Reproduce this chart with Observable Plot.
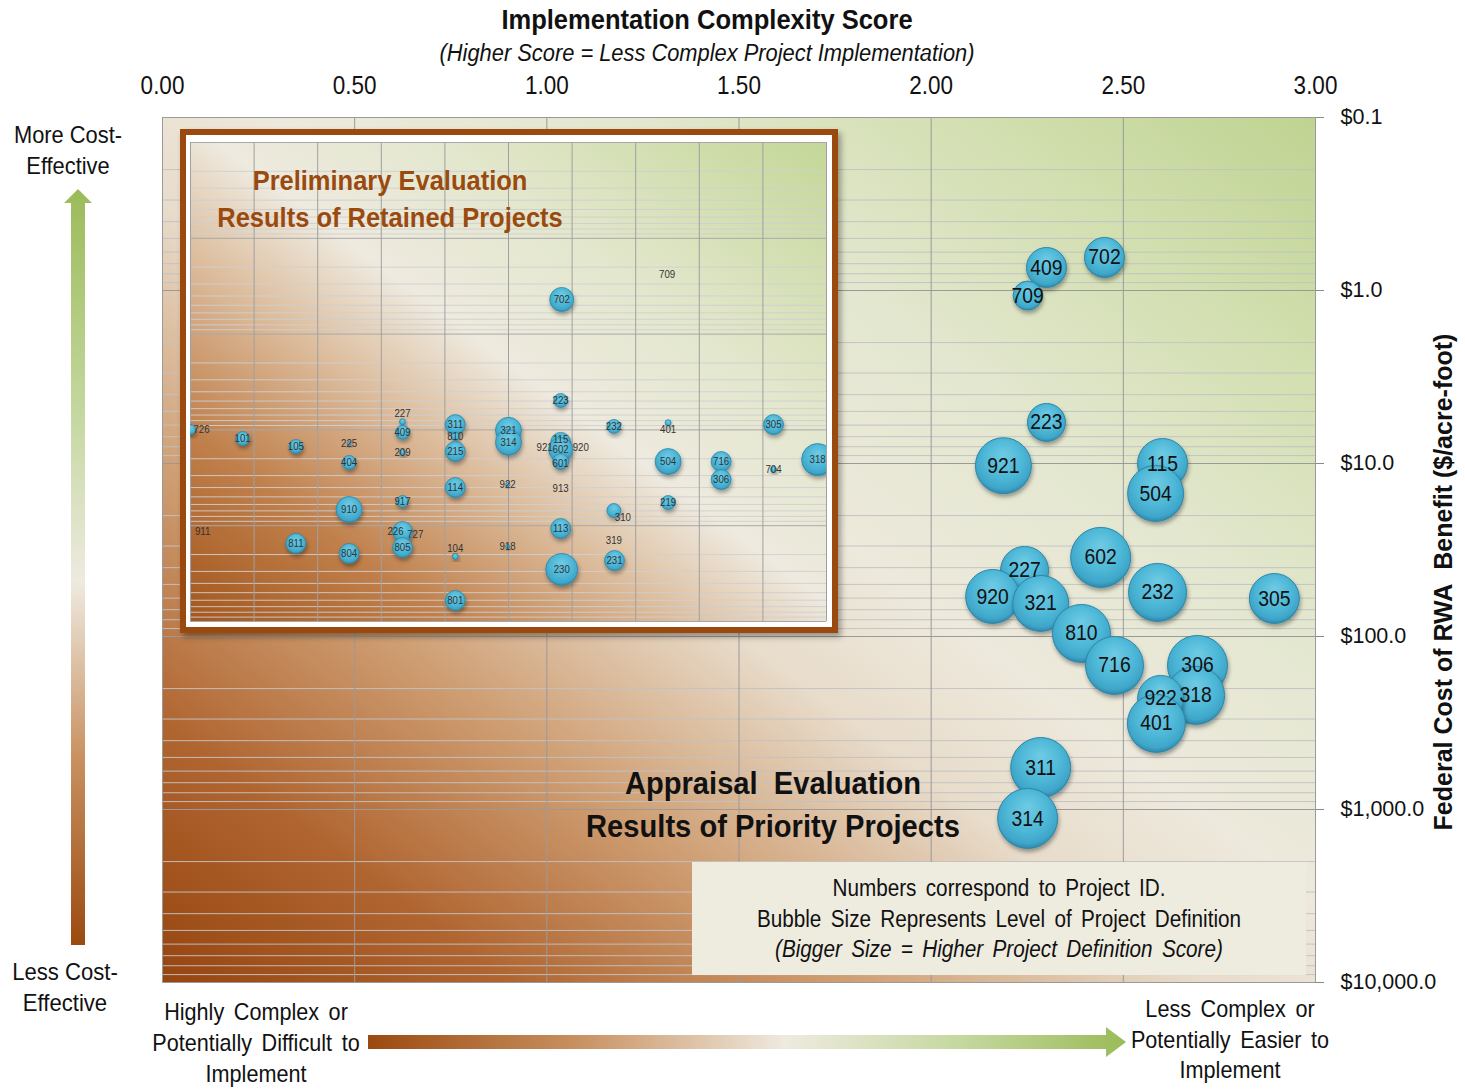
<!DOCTYPE html>
<html><head><meta charset="utf-8">
<script src="https://cdn.jsdelivr.net/npm/d3@7"></script>
<script src="https://cdn.jsdelivr.net/npm/@observablehq/plot@0.6"></script>
<style>
body{margin:0;background:#fff;}
#wrap{position:relative;width:1465px;height:1089px;overflow:hidden;font-family:"Liberation Sans",Arial,sans-serif;color:#111;}
.t{position:absolute;text-align:center;white-space:nowrap;transform-origin:50% 50%;}
#inset{position:absolute;left:180px;top:129px;width:646px;height:492px;border:6px solid #9b4a0f;background:#fff;box-shadow:3px 4px 6px rgba(0,0,0,0.35);}
#legend{position:absolute;left:692px;top:862px;width:614px;height:113px;background:#eeebdf;}
</style></head><body><div id="wrap"></div>
<script>
// ---------- Appraisal evaluation (main chart) ----------
const mainIds   = ["702","409","709","223","921","115","504","602","227","920","321","232","305","810","716","306","318","922","401","311","314"];
const mainScore = [2.451,2.300,2.251,2.300,2.188,2.602,2.584,2.441,2.243,2.160,2.285,2.589,2.893,2.391,2.477,2.693,2.688,2.597,2.586,2.285,2.251];
const mainCost  = [0.644,0.736,1.07,5.79,10.3,10.0,14.9,34.9,41.5,58.7,64.4,55.6,60.3,96,147,147,219,228,318,572,1127];
const mainDef   = [1.33,1.33,0.70,1.20,2.61,2.08,2.61,3.0,1.92,2.43,2.61,2.80,2.08,2.80,2.80,3.0,2.80,1.76,2.80,3.0,3.0];

// ---------- Preliminary evaluation (inset) ----------
const insetIds   = ["726","101","105","225","404","910","811","804","911","227","409","209","917","226","727","805","311","810","215","114","104","801","321","314","922","918","702","223","115","921","920","602","601","913","113","230","232","310","319","231","709","401","504","219","716","306","305","704","318"];
const insetScore = [0.00,0.246,0.497,0.748,0.748,0.748,0.497,0.748,0.057,1.0,1.0,1.0,1.0,1.0,1.06,1.0,1.249,1.249,1.249,1.249,1.249,1.249,1.50,1.50,1.496,1.496,1.751,1.746,1.746,1.694,1.817,1.746,1.746,1.746,1.746,1.751,1.997,1.997,1.997,2.0,2.248,2.253,2.253,2.253,2.503,2.503,2.75,2.75,2.958];
const insetCost  = [9.9,12.3,14.9,13.9,21.9,67.8,153,195,115,8.2,10.6,17.2,55.9,115,124,169,8.8,11.7,16.8,39.9,209,604,10.1,13.5,37.2,165,0.435,4.93,13.5,15.3,15.3,16.0,21.4,40.9,107,286,9.2,69.4,143,231,0.239,8.4,21.4,57.3,21.4,33.0,8.8,25.9,20.4];
const insetDef   = [0.29,0.57,0.57,0.047,0.57,1.98,1.17,1.17,0,0.105,0.57,0.105,0.42,1.17,0,1.17,1.17,0.19,1.17,1.17,0.105,1.17,1.98,1.98,0.047,0.047,1.69,0.57,1.17,0,0,1.69,0.75,0,1.17,3.0,0.57,0.57,0,1.17,0,0.105,1.98,0.57,1.17,1.17,1.17,0.105,3.0];

// ---------- ticks ----------
const xTicks = [0, 0.5, 1, 1.5, 2, 2.5, 3];
const yTicks = [0.1, 1, 10, 100, 1000, 10000];
const insetXTicks = [0, 0.3, 0.6, 0.9, 1.2, 1.5, 1.8, 2.1, 2.4, 2.7, 3];
const insetYTicks = [0.01, 0.1, 1, 10, 100, 1000];

const minorOf = ticks => ticks.slice(0, -1).flatMap(d => [2,3,4,5,6,7,8,9].map(k => d * k));

const mainData = mainIds.map((id, i) => ({id, score: mainScore[i], cost: mainCost[i], def: mainDef[i]}));
const insetData = insetIds.map((id, i) => ({id, score: insetScore[i], cost: insetCost[i], def: insetDef[i]}));

const FONT = '"Liberation Sans",Arial,sans-serif';

const defs = `
<linearGradient id="mainBg" x1="0" y1="1" x2="1" y2="0">
  <stop offset="0" stop-color="#974510"/>
  <stop offset="0.15" stop-color="#b06530"/>
  <stop offset="0.3" stop-color="#cf9f74"/>
  <stop offset="0.45" stop-color="#e8dccb"/>
  <stop offset="0.55" stop-color="#ede9dc"/>
  <stop offset="0.7" stop-color="#e3e7cf"/>
  <stop offset="0.85" stop-color="#d2dfb0"/>
  <stop offset="1" stop-color="#bfd391"/>
</linearGradient>
<linearGradient id="insetBg" x1="0" y1="1" x2="1" y2="0">
  <stop offset="0" stop-color="#a4571d"/>
  <stop offset="0.2" stop-color="#c0804c"/>
  <stop offset="0.38" stop-color="#dcbc9c"/>
  <stop offset="0.52" stop-color="#eeeadf"/>
  <stop offset="0.7" stop-color="#e3e7cd"/>
  <stop offset="1" stop-color="#c4d798"/>
</linearGradient>
<radialGradient id="bub" cx="0.5" cy="0.42" r="0.58" fx="0.5" fy="0.3">
  <stop offset="0" stop-color="#6fcbe4"/>
  <stop offset="0.6" stop-color="#4db7d7"/>
  <stop offset="0.88" stop-color="#3fa6c9"/>
  <stop offset="1" stop-color="#2d88ab"/>
</radialGradient>
<filter id="shadow" x="-30%" y="-30%" width="160%" height="170%">
  <feDropShadow dx="1" dy="3" stdDeviation="2" flood-color="#000" flood-opacity="0.35"/>
</filter>`;

const main = Plot.plot({
  width: 1465, height: 1089,
  marginTop: 117, marginLeft: 162, marginRight: 150, marginBottom: 107,
  style: {background: "transparent", overflow: "visible", color: "#111", fontFamily: FONT},
  x: {domain: [0, 3]},
  y: {type: "log", domain: [0.1, 10000], reverse: true},
  r: {domain: [0, 3], range: [0, 30]},
  marks: [
    Plot.frame({fill: "url(#mainBg)"}),
    Plot.ruleY(minorOf(yTicks), {stroke: "#c2c2c2", strokeOpacity: 0.95}),
    Plot.ruleY(yTicks, {stroke: "#9a9a9a"}),
    Plot.ruleX(xTicks, {stroke: "#9a9a9a"}),
    Plot.frame({stroke: "#9a9a9a"}),
    Plot.axisX({anchor: "top", ticks: xTicks, tickFormat: d3.format(".2f"), tickSize: 0, tickPadding: 24, label: null,
      fontSize: 25, fontFamily: FONT, fill: "#111"}),
    Plot.axisY({anchor: "right", ticks: yTicks, tickFormat: d => "$" + d3.format(",.1f")(d), tickSize: 8, tickPadding: 17, label: null,
      fontSize: 21.5, fontFamily: FONT, fill: "#111", stroke: "#888"}),
    Plot.dot(mainData, {x: "score", y: "cost", r: "def", fill: "url(#bub)", stroke: "#2b86a8", strokeWidth: 1, sort: null}),
    Plot.text(mainData, {x: "score", y: "cost", text: "id", fontSize: 22, fontFamily: FONT, fill: "#111"})
  ]
});

// small label offsets for crowded / tiny inset bubbles
const labelNudge = {"726": [11, 0], "227": [0, -8], "104": [0, -8], "226": [-7, 0], "310": [9, 7], "401": [0, 7],
  "921": [-5, 0], "920": [5, 0], "115": [0, -3], "601": [0, 2]};

const inset = Plot.plot({
  width: 646, height: 492,
  marginLeft: 4, marginRight: 6, marginTop: 7, marginBottom: 6,
  style: {background: "#fff", overflow: "hidden", fontFamily: FONT},
  x: {domain: [0, 3], axis: null},
  y: {type: "log", domain: [0.01, 1000], reverse: true, axis: null},
  r: {domain: [0, 3], range: [0, 16]},
  marks: [
    Plot.frame({fill: "url(#insetBg)"}),
    Plot.ruleY(minorOf(insetYTicks), {stroke: "#cfcfcf", strokeOpacity: 0.9}),
    Plot.ruleY(insetYTicks, {stroke: "#a8a8a8"}),
    Plot.ruleX(insetXTicks, {stroke: "#a0a0a0"}),
    Plot.dot(insetData, {x: "score", y: "cost", r: "def", fill: "url(#bub)", stroke: "#2b86a8", strokeWidth: 0.8, sort: null, clip: true}),
    Plot.text(insetData, {filter: d => !labelNudge[d.id], x: "score", y: "cost", text: "id", fontSize: 11, fontFamily: FONT, fill: "#333"}),
    ...Object.entries(labelNudge).map(([id, [dx, dy]]) =>
      Plot.text(insetData, {filter: d => d.id === id, x: "score", y: "cost", text: "id", dx, dy, fontSize: 11, fontFamily: FONT, fill: "#333"}))
  ]
});

// narrow the label glyphs horizontally (reference uses a condensed face);
// only the transform is extended, x/y attributes are left untouched
function squeeze(svg, selector, s) {
  d3.select(svg).selectAll(selector).each(function() {
    const t = this.getAttribute("transform") || "";
    this.setAttribute("transform", (t + ` scale(${s},1)`).trim());
  });
}
squeeze(main, 'g[aria-label="text"] text', 0.88);
squeeze(main, 'g[aria-label="x-axis tick label"] text', 0.9);
squeeze(inset, 'g[aria-label="text"] text', 0.88);

const wrap = document.getElementById("wrap");
d3.select(main).insert("defs", ":first-child").html(defs);
d3.select(main).selectAll("circle").attr("filter", "url(#shadow)");
d3.select(inset).selectAll("circle").attr("filter", "url(#shadow)");
main.style.position = "absolute"; main.style.left = "0px"; main.style.top = "0px";
wrap.appendChild(main);

const insetBox = document.createElement("div");
insetBox.id = "inset";
insetBox.appendChild(inset);
wrap.appendChild(insetBox);

function addText(html, cx, top, sx, css) {
  const d = document.createElement("div");
  d.className = "t";
  d.innerHTML = html;
  d.style.left = cx + "px";
  d.style.top = top + "px";
  d.style.transform = `translateX(-50%) scaleX(${sx})`;
  Object.assign(d.style, css || {});
  wrap.appendChild(d);
  return d;
}

// Titles
addText("Implementation Complexity Score", 707, 4, 0.945, {fontSize: "27px", fontWeight: "bold", lineHeight: "32px"});
addText("(Higher Score = Less Complex Project Implementation)", 707, 39, 0.95, {fontSize: "23px", fontStyle: "italic", lineHeight: "28px"});

// Inset title
addText("Preliminary Evaluation<br>Results of Retained Projects", 390, 162, 0.91, {fontSize: "28px", fontWeight: "bold", lineHeight: "37px", color: "#9b4a0f"});

// Appraisal title
addText("Appraisal&nbsp; Evaluation<br>Results of Priority Projects", 773, 762, 0.91, {fontSize: "32px", fontWeight: "bold", lineHeight: "43px"});

// Legend box
const lg = document.createElement("div");
lg.id = "legend";
wrap.appendChild(lg);
addText("Numbers correspond to Project ID.<br>Bubble Size Represents Level of Project Definition<br><i>(Bigger Size = Higher Project Definition Score)</i>", 999, 873, 0.9, {fontSize: "23px", lineHeight: "30.5px", wordSpacing: "4px"});

// Side labels
addText("More Cost-<br>Effective", 68, 119, 0.91, {fontSize: "24px", lineHeight: "31px"});
addText("Less Cost-<br>Effective", 65, 956, 0.92, {fontSize: "24px", lineHeight: "31px"});
addText("Highly Complex or<br>Potentially Difficult to<br>Implement", 256, 996, 0.9, {fontSize: "24px", lineHeight: "31px", wordSpacing: "4px"});
addText("Less Complex or<br>Potentially Easier to<br>Implement", 1230, 994, 0.9, {fontSize: "24px", lineHeight: "30.5px", wordSpacing: "4px"});

// Right axis title
const yt = document.createElement("div");
yt.innerHTML = "Federal Cost of RWA&nbsp; Benefit ($/acre-foot)";
Object.assign(yt.style, {position: "absolute", left: "1443px", top: "582px", transform: "translate(-50%,-50%) rotate(-90deg)",
  fontSize: "25px", fontWeight: "bold", whiteSpace: "nowrap"});
wrap.appendChild(yt);

// Direction arrows
const ns = "http://www.w3.org/2000/svg";
const arrows = document.createElementNS(ns, "svg");
arrows.setAttribute("width", 1465); arrows.setAttribute("height", 1089);
Object.assign(arrows.style, {position: "absolute", left: "0px", top: "0px", pointerEvents: "none"});
arrows.innerHTML = `
<defs>
<linearGradient id="vArrow" x1="0" y1="0" x2="0" y2="1">
  <stop offset="0" stop-color="#9bbb59"/>
  <stop offset="0.3" stop-color="#c5d8a0"/>
  <stop offset="0.52" stop-color="#eeeadf"/>
  <stop offset="0.75" stop-color="#c99262"/>
  <stop offset="1" stop-color="#9b4a0f"/>
</linearGradient>
<linearGradient id="hArrow" x1="0" y1="0" x2="1" y2="0">
  <stop offset="0" stop-color="#9b4a0f"/>
  <stop offset="0.28" stop-color="#c99262"/>
  <stop offset="0.55" stop-color="#eeeadf"/>
  <stop offset="0.78" stop-color="#c5d8a0"/>
  <stop offset="1" stop-color="#9bbb59"/>
</linearGradient>
</defs>
<path d="M78,189 L92,203 L85,203 L85,945 L71,945 L71,203 L64,203 Z" fill="url(#vArrow)"/>
<path d="M368,1035 L1106,1035 L1106,1027 L1126,1042 L1106,1057 L1106,1049 L368,1049 Z" fill="url(#hArrow)"/>`;
wrap.appendChild(arrows);
</script></body></html>
